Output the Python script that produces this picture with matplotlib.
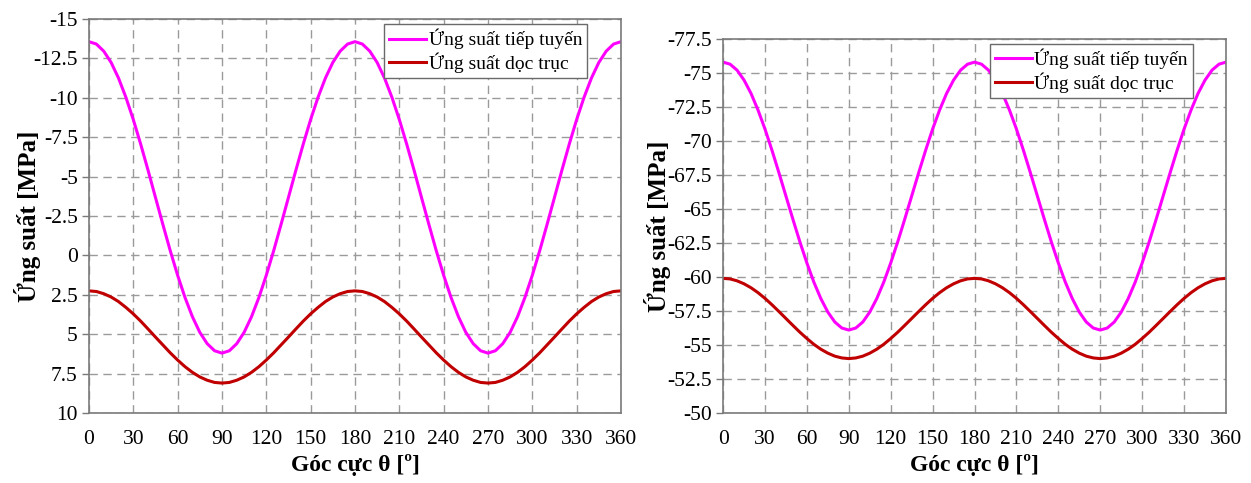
import numpy as np
import matplotlib
matplotlib.use("Agg")
import matplotlib.pyplot as plt

plt.rcParams['font.family'] = ['Liberation Serif', 'DejaVu Serif']
plt.rcParams['axes.unicode_minus'] = False

# Goc cuc theta, buoc 5 do (chu ky 180 do)
theta = np.arange(0, 365, 5)

# Hinh trai: ung suat [MPa], 0..180 do
tiep_tuyen_1 = [-13.56, -13.41, -12.96, -12.24, -11.25, -10.03, -8.62, -7.06, -5.40, -3.68,
                -1.97, -0.30, 1.26, 2.67, 3.89, 4.88, 5.60, 6.05, 6.20,
                6.05, 5.60, 4.88, 3.89, 2.67, 1.26, -0.30, -1.97, -3.68,
                -5.40, -7.06, -8.62, -10.03, -11.25, -12.24, -12.96, -13.41, -13.56]
doc_truc_1 = [2.25, 2.29, 2.43, 2.64, 2.93, 3.30, 3.71, 4.17, 4.67, 5.18,
              5.68, 6.18, 6.64, 7.06, 7.42, 7.71, 7.92, 8.06, 8.10,
              8.06, 7.92, 7.71, 7.42, 7.06, 6.64, 6.18, 5.68, 5.18,
              4.67, 4.17, 3.71, 3.30, 2.93, 2.64, 2.43, 2.29, 2.25]

# Hinh phai
tiep_tuyen_2 = [-75.80, -75.65, -75.21, -74.48, -73.50, -72.28, -70.88, -69.32, -67.66, -65.95,
                -64.24, -62.58, -61.03, -59.62, -58.41, -57.42, -56.69, -56.25, -56.10,
                -56.25, -56.69, -57.42, -58.41, -59.62, -61.03, -62.58, -64.24, -65.95,
                -67.66, -69.32, -70.88, -72.28, -73.50, -74.48, -75.21, -75.65, -75.80]
doc_truc_2 = [-59.90, -59.86, -59.72, -59.50, -59.21, -58.85, -58.43, -57.96, -57.46, -56.95,
              -56.44, -55.94, -55.48, -55.05, -54.69, -54.40, -54.18, -54.05, -54.00,
              -54.05, -54.18, -54.40, -54.69, -55.05, -55.48, -55.94, -56.44, -56.95,
              -57.46, -57.96, -58.43, -58.85, -59.21, -59.50, -59.72, -59.86, -59.90]

x_ticks = list(range(0, 361, 30))
y_ticks_1 = [-15, -12.5, -10, -7.5, -5, -2.5, 0, 2.5, 5, 7.5, 10]
y_ticks_2 = [-77.5, -75, -72.5, -70, -67.5, -65, -62.5, -60, -57.5, -55, -52.5, -50]

ten_tt = "Ứng suất tiếp tuyến"
ten_dt = "Ứng suất dọc trục"


def full(half):
    # noi hai chu ky 0-180 va 180-360
    return np.concatenate([half, half[1:]])


def ve(ax, tt, dt, yticks, leg_anchor, ylab_x, xlab_y):
    ax.plot(theta, full(tt), color='#FF00FF', lw=2.2, label=ten_tt)
    ax.plot(theta, full(dt), color='#C00000', lw=2.2, label=ten_dt)
    ax.set_xlim(0, 360)
    ax.set_ylim(yticks[-1], yticks[0])
    ax.set_xticks(x_ticks)
    ax.set_yticks(yticks)
    ax.set_yticklabels(['{:g}'.format(v) for v in yticks])
    ax.grid(True, color='#9a9a9a', ls=(0, (6, 4)), lw=1.0)
    for s in ax.spines.values():
        s.set_color('#7a7a7a')
        s.set_linewidth(1.2)
    ax.tick_params(axis='x', length=0, pad=12, labelsize=15.5)
    ax.tick_params(axis='y', length=5, width=1.0, color='#7a7a7a', labelsize=15.5, pad=3)
    ax.set_xlabel("Góc cực θ [º]", fontsize=17, fontweight='bold')
    ax.set_ylabel("Ứng suất [MPa]", fontsize=18, fontweight='bold')
    ax.yaxis.set_label_coords(ylab_x, 0.5)
    ax.xaxis.set_label_coords(0.5, xlab_y)
    leg = ax.legend(loc='upper right', bbox_to_anchor=leg_anchor, fontsize=14,
                    fancybox=False, framealpha=1, edgecolor='#6a6a6a',
                    handlelength=1.9, handletextpad=0.15, borderpad=0.25,
                    labelspacing=0.15, borderaxespad=0)
    leg.get_frame().set_linewidth(1.0)


fig = plt.figure(figsize=(12.51, 4.83), dpi=100)
ax1 = fig.add_axes([0.0711, 0.1449, 0.4253, 0.8158])
ax2 = fig.add_axes([0.578, 0.1449, 0.402, 0.7743])

ve(ax1, tiep_tuyen_1, doc_truc_1, y_ticks_1, (0.936, 0.987), -0.09, -0.105)
ve(ax2, tiep_tuyen_2, doc_truc_2, y_ticks_2, (0.934, 0.987), -0.103, -0.11)

fig.savefig("out.png", dpi=100)
